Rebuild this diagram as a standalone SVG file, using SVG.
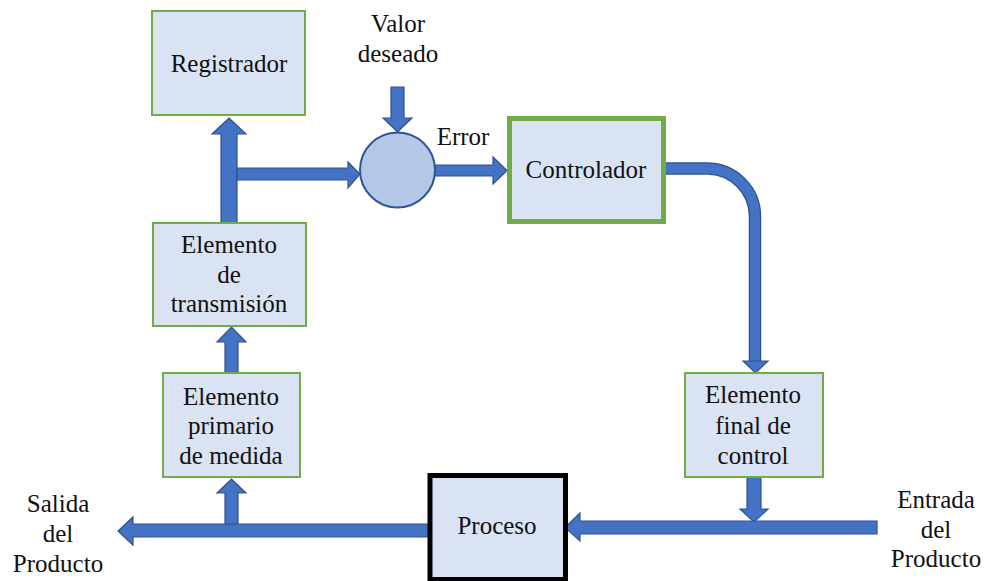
<svg xmlns="http://www.w3.org/2000/svg" width="987" height="581" viewBox="0 0 987 581">
<style>
.box{fill:#DAE3F3;stroke:#70AD47;stroke-width:2}
.t{font-family:'Liberation Serif','Times New Roman',Tinos,'DejaVu Serif',serif;font-size:25px;fill:#111;text-anchor:middle}
.arr{fill:#4472C4;stroke:#2F528F;stroke-width:1.2;stroke-linejoin:miter}
</style>
<rect width="987" height="581" fill="#fff"/>
<g id="connectors">
<polygon class="arr" points="221,223 221,134 212,134 229,118 246,134 237,134 237,223"/>
<polygon class="arr" points="237,168 348,168 348,162 360,174 348,188 348,180 237,180"/>
<polygon class="arr" points="391,87 404,87 404,118 412,118 397.5,132 383,118 391,118"/>
<polygon class="arr" points="435,165 493,165 493,157 507,170.5 493,184 493,176 435,176"/>
<path d="M662 168.5 H707 A48 48 0 0 1 755 216.5 V362" fill="none" stroke="#2F528F" stroke-width="12.5"/>
<path d="M662.5 168.5 H707 A48 48 0 0 1 755 216.5 V362" fill="none" stroke="#4472C4" stroke-width="10"/>
<polygon class="arr" points="743,361 768,361 755.5,373"/>
<polygon class="arr" points="747,477 761,477 761,509 768,509 754,522 740,509 747,509"/>
<polygon class="arr" points="877,521 877,534 580,534 580,541 565,527.5 580,513 580,521"/>
<polygon class="arr" points="430,524 430,537 133,537 133,545 118,531 133,517 133,524"/>
<polygon class="arr" points="225,524 225,493 217,493 231.5,479 246,493 238,493 238,524"/>
<polygon class="arr" points="225,373 225,342 217,342 231.5,327 246,342 238,342 238,373"/>
</g>
<g id="registrador">
<rect class="box" x="152" y="11" width="153" height="104"/>
<text class="t" x="229" y="72">Registrador</text>
</g>
<g id="comparador">
<circle cx="397.5" cy="170" r="37.5" fill="#B4C7E7" stroke="#2F5597" stroke-width="2"/>
</g>
<g id="valor-deseado">
<text class="t" x="398" y="32">Valor</text>
<text class="t" x="398" y="62">deseado</text>
</g>
<g id="error-label">
<text class="t" x="463" y="145">Error</text>
</g>
<g id="controlador">
<rect x="509.5" y="118.5" width="154" height="103" fill="#DAE3F3" stroke="#70AD47" stroke-width="5"/>
<text class="t" x="586" y="178">Controlador</text>
</g>
<g id="transmision">
<rect class="box" x="153" y="223" width="153" height="103"/>
<text class="t" x="229" y="253">Elemento</text>
<text class="t" x="229" y="283">de</text>
<text class="t" x="229" y="312">transmisión</text>
</g>
<g id="primario">
<rect class="box" x="163" y="373" width="137" height="104"/>
<text class="t" x="231" y="405">Elemento</text>
<text class="t" x="231" y="434">primario</text>
<text class="t" x="231" y="464">de medida</text>
</g>
<g id="final-control">
<rect class="box" x="685" y="373" width="138" height="104"/>
<text class="t" x="753" y="403">Elemento</text>
<text class="t" x="753" y="434">final de</text>
<text class="t" x="753" y="464">control</text>
</g>
<g id="proceso">
<rect x="430" y="475.5" width="135.5" height="104" fill="#DAE3F3" stroke="#000" stroke-width="5"/>
<text class="t" x="497" y="534">Proceso</text>
</g>
<g id="salida">
<text class="t" x="58" y="512">Salida</text>
<text class="t" x="58" y="542">del</text>
<text class="t" x="58" y="572">Producto</text>
</g>
<g id="entrada">
<text class="t" x="936" y="508">Entrada</text>
<text class="t" x="936" y="538">del</text>
<text class="t" x="936" y="567">Producto</text>
</g>
</svg>
